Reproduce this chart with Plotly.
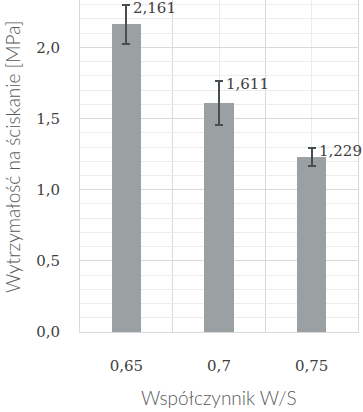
import plotly.graph_objects as go

categories = ["0,65", "0,7", "0,75"]
values = [2.161, 1.611, 1.229]
errors = [0.135, 0.155, 0.063]
labels = ["2,161", "1,611", "1,229"]
y_ticks = [0.0, 0.5, 1.0, 1.5, 2.0]
y_ticktext = ["0,0", "0,5", "1,0", "1,5", "2,0"]

xs = list(range(len(categories)))
num_font = dict(family="DejaVu Serif", size=15, color="#404040")
title_font = dict(family="Lato", size=19, color="#595959", weight=300)

fig = go.Figure()
fig.add_trace(go.Bar(
    x=xs, y=values, width=0.316,
    marker=dict(color="#9ba1a3", line=dict(width=0)),
    error_y=dict(type="data", array=errors, visible=True,
                 color="#454f53", thickness=2, width=4),
    hoverinfo="skip",
))

for x, v, e, t in zip(xs, values, errors, labels):
    fig.add_annotation(x=x, y=v + e, text=t, showarrow=False,
                       xanchor="left", yanchor="middle", xshift=5, yshift=-3,
                       font=num_font)

fig.add_annotation(text="Współczynnik W/S", xref="paper", yref="paper",
                   x=0.5, y=-80 / 332, xanchor="center", yanchor="bottom",
                   yshift=1, showarrow=False, font=title_font)
fig.add_annotation(text="Wytrzymałość na ściskanie [MPa]", xref="paper", yref="paper",
                   x=-68 / 278, y=(332 - 157) / 332, xanchor="center", yanchor="middle",
                   textangle=-90, showarrow=False, font=title_font)

fig.update_layout(
    width=363, height=412,
    margin=dict(l=80, r=5, t=0, b=80),
    paper_bgcolor="white", plot_bgcolor="white",
    showlegend=False,
    bargap=0,
)
fig.update_xaxes(
    range=[-0.5, 2.5],
    tickvals=xs, ticktext=categories,
    showgrid=True, gridcolor="#ececec", gridwidth=1,
    minor=dict(tickvals=[0.5, 1.5], showgrid=True, gridcolor="#d9d9d9", gridwidth=1),
    showline=True, linecolor="#d9d9d9", linewidth=1,
    zeroline=False,
    ticks="", ticklabelstandoff=20,
    tickfont=num_font,
)
fig.update_yaxes(
    range=[0, 2.333],
    tickvals=y_ticks, ticktext=y_ticktext,
    showgrid=True, gridcolor="#d9d9d9", gridwidth=1,
    minor=dict(dtick=0.1, tick0=0, showgrid=True, gridcolor="#ececec", gridwidth=1),
    showline=True, mirror=True, linecolor="#d9d9d9", linewidth=1,
    zeroline=False,
    ticks="", ticklabelstandoff=16,
    tickfont=num_font,
)

fig.write_html("out.html")
